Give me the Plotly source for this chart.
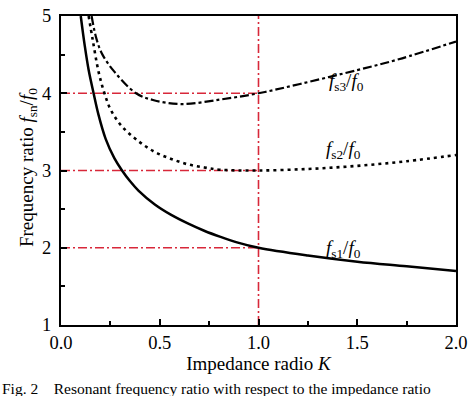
import plotly.graph_objects as go

# ---- data ----
k_s1 = [0.10, 0.12, 0.14, 0.165, 0.19, 0.226, 0.27, 0.309, 0.35, 0.392, 0.475, 0.558,
        0.642, 0.725, 0.808, 0.891, 1.0, 1.25, 1.5, 1.75, 2.0]
f_s1 = [5.00, 4.62, 4.30, 4.00, 3.72, 3.41, 3.16, 3.00, 2.86, 2.74, 2.56, 2.425,
        2.315, 2.22, 2.14, 2.07, 2.00, 1.90, 1.82, 1.76, 1.70]

k_s2 = [0.14, 0.16, 0.19, 0.22, 0.253, 0.309, 0.392, 0.475, 0.558, 0.642, 0.725, 0.808,
        1.0, 1.25, 1.5, 1.75, 2.0]
f_s2 = [5.00, 4.70, 4.28, 4.00, 3.78, 3.57, 3.38, 3.24, 3.15, 3.08, 3.04, 3.01,
        3.00, 3.02, 3.06, 3.12, 3.20]

k_s3 = [0.155, 0.18, 0.21, 0.27, 0.38, 0.47, 0.61, 0.81, 1.0, 1.21, 1.5, 1.71, 2.0]
f_s3 = [5.00, 4.70, 4.50, 4.28, 4.00, 3.91, 3.86, 3.92, 4.00, 4.12, 4.30, 4.44, 4.67]

ref_levels = [2, 3, 4]
ref_k = 1.0
x_range = [0, 2]
y_range = [1, 5]
x_ticks = [0, 0.5, 1.0, 1.5, 2.0]
x_ticktext = ["0.0", "0.5", "1.0", "1.5", "2.0"]
y_ticks = [1, 2, 3, 4, 5]

curve_labels = ["<i>f</i><sub>s1</sub>/<i>f</i><sub>0</sub>",
                "<i>f</i><sub>s2</sub>/<i>f</i><sub>0</sub>",
                "<i>f</i><sub>s3</sub>/<i>f</i><sub>0</sub>"]
label_k = [1.43, 1.43, 1.445]
label_f = [1.98, 3.27, 4.15]

FONT = "Liberation Serif, Times New Roman, serif"
RED = "#d8283a"
RED_DASH = "9px,3px,2px,3px"

fig = go.Figure()

# reference red dash-dot lines
for lv in ref_levels:
    fig.add_trace(go.Scatter(x=[x_range[0], ref_k], y=[lv, lv], mode="lines",
                             line=dict(color=RED, width=1.6, dash=RED_DASH),
                             showlegend=False, hoverinfo="skip"))
fig.add_trace(go.Scatter(x=[ref_k, ref_k], y=y_range, mode="lines",
                         line=dict(color=RED, width=1.6, dash=RED_DASH),
                         showlegend=False, hoverinfo="skip"))

fig.add_trace(go.Scatter(x=k_s1, y=f_s1, mode="lines", line_shape="spline",
                         line=dict(color="black", width=2.5), showlegend=False))
fig.add_trace(go.Scatter(x=k_s2, y=f_s2, mode="lines", line_shape="spline",
                         line=dict(color="black", width=2.6, dash="3px,4px"), showlegend=False))
fig.add_trace(go.Scatter(x=k_s3, y=f_s3, mode="lines", line_shape="spline",
                         line=dict(color="black", width=2.2, dash="9px,3px,3px,3px"), showlegend=False))

for t, xk, yf in zip(curve_labels, label_k, label_f):
    fig.add_annotation(x=xk, y=yf, xref="x", yref="y", text=t, showarrow=False,
                       font=dict(family=FONT, size=19, color="black"))

# y-axis title (placed as annotation to match reference offset)
fig.add_annotation(x=-0.082, y=0.51, xref="paper", yref="paper", textangle=-90,
                   showarrow=False, xanchor="center", yanchor="middle",
                   text="Frequency ratio <i>f</i><sub>sn</sub>/<i>f</i><sub>0</sub>",
                   font=dict(family=FONT, size=19, color="black"))

fig.add_annotation(x=-0.155, y=-0.205, xref="paper", yref="paper", xanchor="left",
                   yanchor="middle", showarrow=False,
                   text="Fig. 2&nbsp;&nbsp;&nbsp;&nbsp;Resonant frequency ratio with respect to the impedance ratio",
                   font=dict(family=FONT, size=15.5, color="black"))

fig.update_layout(
    width=474, height=396,
    margin=dict(l=61, r=12, t=6, b=71),
    paper_bgcolor="white", plot_bgcolor="white",
    font=dict(family=FONT, size=18, color="black"),
    xaxis=dict(range=x_range, tickvals=x_ticks, ticktext=x_ticktext,
               ticks="inside", ticklen=6, tickwidth=1.5, tickcolor="black",
               ticklabeloverflow="allow",
               minor=dict(ticks="inside", ticklen=4, tickwidth=1.5, tickcolor="black", dtick=0.25),
               showline=True, linewidth=2, linecolor="black", mirror=True,
               showgrid=False, zeroline=False, tickfont=dict(size=18.5),
               title=dict(text="Impedance radio <i>K</i>", font=dict(size=19), standoff=4)),
    yaxis=dict(range=y_range, tickvals=y_ticks,
               ticks="inside", ticklen=6, tickwidth=1.5, tickcolor="black",
               ticklabeloverflow="allow", ticklabelstandoff=4,
               minor=dict(ticks="inside", ticklen=4, tickwidth=1.5, tickcolor="black", dtick=0.5),
               showline=True, linewidth=2, linecolor="black", mirror=True,
               showgrid=False, zeroline=False, tickfont=dict(size=18.5)),
)

fig.write_html("out.html", config={"displayModeBar": False},
               post_script="document.body.style.margin='0';")
